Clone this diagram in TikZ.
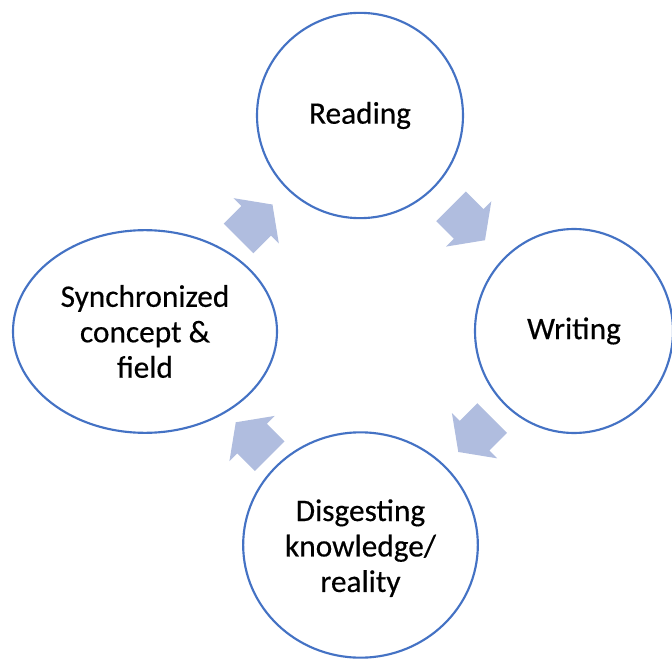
\documentclass[tikz,border=0pt]{standalone}
\usepackage{fontspec}
\setmainfont{Carlito}[FakeBold=0.4]
\usetikzlibrary{shapes.geometric,calc}
\definecolor{ringblue}{RGB}{68,114,196}
\definecolor{arrowblue}{RGB}{176,189,223}
\tikzset{
  ring/.style={ellipse, draw=ringblue, line width=1.6pt, fill=white, inner sep=0pt,
    align=center, font=\fontsize{23.5}{26.6}\selectfont},
  blockarrow/.pic={\fill[arrowblue] (-24,-21) -- (1,-21) -- (1,-32) -- (24,0) -- (1,32) -- (1,21) -- (-24,21) -- cycle;}
}
\begin{document}
\begin{tikzpicture}[x=0.75pt,y=-0.75pt]
\useasboundingbox (0,0) rectangle (672,660);
\node[ring, minimum width=154.5pt, minimum height=154pt] (reading) at (360,115.5) {Reading};
\node[ring, minimum width=148.5pt, minimum height=153pt] (writing) at (574,331) {Writing};
\node[ring, minimum width=176pt, minimum height=169pt] (digest) at (360.5,545) {\rule{0pt}{21pt}Disgesting\\knowledge/\\reality};
\node[ring, minimum width=198pt, minimum height=152pt] (sync) at (145,331.5) {Synchronized\\concept \&\\field};
\pic[rotate=45] at ($(sync)!0.5!(reading)+(3,-2)$) {blockarrow};
\pic[rotate=-45] at ($(reading)!0.5!(writing)+(1,0)$) {blockarrow};
\pic[rotate=-135] at ($(writing)!0.5!(digest)+(8,-3)$) {blockarrow};
\pic[rotate=135] at ($(digest)!0.5!(sync)+(0,1)$) {blockarrow};
\end{tikzpicture}
\end{document}
